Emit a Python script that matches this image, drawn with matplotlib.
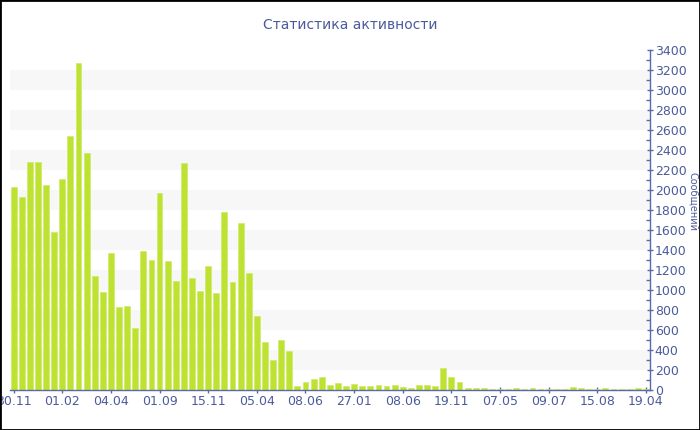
import numpy as np
import matplotlib
matplotlib.use("Agg")
import matplotlib.pyplot as plt

# --- data ---
values = [2030, 1930, 2280, 2285, 2050, 1585, 2110, 2540, 3270, 2370,
          1140, 980, 1370, 835, 845, 625, 1390, 1300, 1975, 1295,
          1095, 2270, 1125, 995, 1245, 970, 1780, 1085, 1675, 1175,
          745, 485, 305, 505, 390, 40, 80, 113, 130, 53,
          70, 40, 60, 40, 37, 50, 40, 47, 27, 20,
          47, 50, 37, 217, 130, 80, 20, 20, 17, 10,
          10, 13, 17, 10, 20, 10, 13, 10, 10, 33,
          17, 10, 10, 17, 13, 13, 10, 17, 10]
tick_labels = ["30.11", "01.02", "04.04", "01.09", "15.11", "05.04", "08.06",
               "27.01", "08.06", "19.11", "07.05", "09.07", "15.08", "19.04"]
tick_step = 6
title = "Статистика активности"
ylabel = "Сообщений"

TXT = "#4b5b9b"
AXC = "#5a6aa8"
BAR = "#bde232"

fig = plt.figure(figsize=(7, 4.3), dpi=100)
ax = fig.add_axes([10 / 700, 1 - 390 / 430, 640 / 700, 340 / 430])

x = np.arange(len(values))
ax.bar(x, values, width=0.72, color=BAR, edgecolor="#cfeb6a", linewidth=0.5, zorder=2)

# alternating light bands
for lo in range(200, 3400, 400):
    ax.axhspan(lo, lo + 200, color="#f7f7f7", zorder=0, lw=0)

ax.set_xlim(-0.45, len(values) - 0.5)
ax.set_ylim(0, 3400)

ax.set_xticks(x[::tick_step])
ax.set_xticklabels(tick_labels)
ax.yaxis.tick_right()
ax.set_yticks(np.arange(0, 3401, 200))
ax.set_yticks(np.arange(100, 3400, 200), minor=True)

for s in ["top", "left"]:
    ax.spines[s].set_visible(False)
for s in ["bottom", "right"]:
    ax.spines[s].set_color(AXC)
    ax.spines[s].set_linewidth(1)

ax.tick_params(axis="x", colors=AXC, labelcolor=TXT, labelsize=9,
               direction="inout", length=5, width=1, pad=1)
ax.tick_params(axis="y", which="major", colors=AXC, labelcolor=TXT, labelsize=9,
               direction="inout", length=5, width=1, pad=1)
ax.tick_params(axis="y", which="minor", colors=AXC, direction="in", length=3, width=1)

fig.text(0.5, 1 - 25 / 430, title, ha="center", va="center", color=TXT, fontsize=10)
fig.text(693 / 700, 1 - 202 / 430, ylabel, ha="center", va="center",
         rotation=270, color=TXT, fontsize=7)

# outer black frame
fig.patches.append(plt.Rectangle((0, 0), 1, 1, transform=fig.transFigure,
                                 fill=False, edgecolor="black", linewidth=2))

fig.savefig("out.png", dpi=100)
